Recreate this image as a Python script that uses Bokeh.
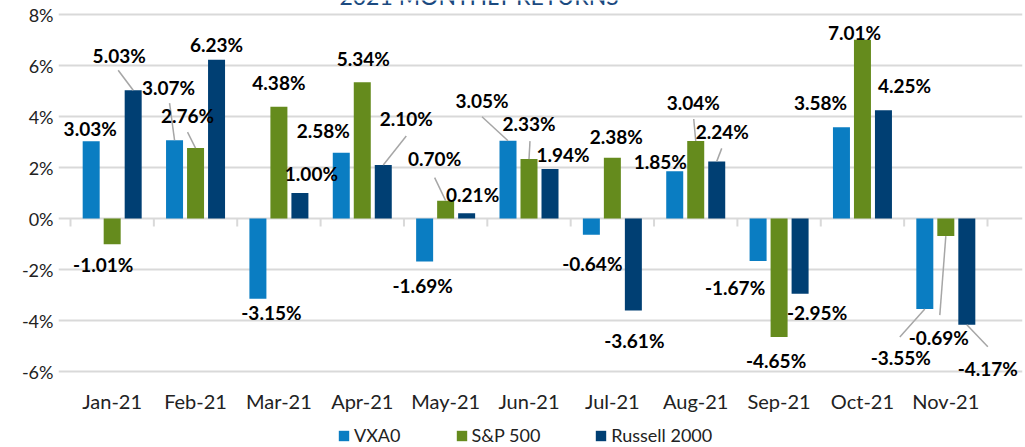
from bokeh.plotting import figure
from bokeh.layouts import column
from bokeh.models import (ColumnDataSource, LabelSet, Label, Legend, LegendItem,
                          FixedTicker, Range1d)
from bokeh.core.properties import value
from bokeh.embed import file_html
from bokeh.resources import INLINE

# ---------------- data ----------------
months = ["Jan-21", "Feb-21", "Mar-21", "Apr-21", "May-21", "Jun-21",
          "Jul-21", "Aug-21", "Sep-21", "Oct-21", "Nov-21"]
vxa0 = [3.03, 3.07, -3.15, 2.58, -1.69, 3.05, -0.64, 1.85, -1.67, 3.58, -3.55]
sp500 = [-1.01, 2.76, 4.38, 5.34, 0.70, 2.33, 2.38, 3.04, -4.65, 7.01, -0.69]
russell = [5.03, 6.23, 1.00, 2.10, 0.21, 1.94, -3.61, 2.24, -2.95, 4.25, -4.17]
series_names = ["VXA0", "S&P 500", "Russell 2000"]
y_ticks = [-6, -4, -2, 0, 2, 4, 6, 8]
title_text = "2021 MONTHLY RETURNS"

# ---------------- layout / style ----------------
colors = ["#0A7DC2", "#658B1D", "#003F73"]
W, H = 1025, 447
FRAME_W, FRAME_H = 964, 380
LEG_H = 31
ppx = 917 / len(months)          # pixels per category
ppy = 357 / 14                   # pixels per percent
BL, BR = 58, 3
X0 = -(70 - BL) / ppx
X1 = X0 + FRAME_W / ppx
Y1 = 8 + 14 / ppy
Y0 = Y1 - FRAME_H / ppy
bar_w = 17 / ppx
dodge = 21 / ppx
FONT = "Lato"

# label offsets (px, screen: +x right, +y down) relative to bar end
lbl_off = [
    [(-1, -13), (-6, -53), (13.5, 14), (-18, -22), (-2, 24), (-26, -40),
     (1, 29), (-14.5, -10), (-23, 26), (-21, -25), (-24, 48)],
    [(-9, 20), (-8, -33), (0, -24), (1, -24), (-11, -42), (0, -36),
     (4, -21), (-2.5, -38), (-3, 23), (-8, -7), (-7, 101)],
    [(-14, -35), (0, -15), (11.5, -19.5), (23, -46), (6, -19), (13, -15),
     (1, 30), (5.5, -30), (17, 19), (21, -25), (21, 44)],
]
# leader lines: (series index, month index, start dx, start dy) relative to bar end
leaders = [(2, 0, -15, -20), (0, 1, -5, -37), (1, 1, -8, -16), (2, 3, 23, -29),
           (1, 4, -11, -23), (0, 5, -26, -24), (1, 5, 1, -18), (1, 7, -2, -22),
           (2, 7, 5, -13), (0, 10, -25, 28), (1, 10, -6, 79), (2, 10, 21, 22)]

p = figure(frame_width=FRAME_W, frame_height=FRAME_H,
           x_range=Range1d(X0, X1), y_range=Range1d(Y0, Y1),
           output_backend="svg", toolbar_location=None,
           min_border_left=BL, min_border_right=BR, min_border_top=0, min_border_bottom=20)
p.outline_line_color = None
p.xgrid.visible = False
p.ygrid.ticker = FixedTicker(ticks=y_ticks)
p.ygrid.grid_line_color = "#D9D9D9"
p.ygrid.grid_line_width = 2
p.ygrid.bounds = (0, len(months))

p.yaxis.ticker = FixedTicker(ticks=y_ticks)
p.yaxis.major_label_overrides = {t: f"{t}%" for t in y_ticks}
p.yaxis.axis_line_color = None
p.yaxis.major_tick_line_color = None
p.yaxis.major_tick_out = 0
p.yaxis.major_tick_in = 0
p.yaxis.minor_tick_line_color = None
p.yaxis.major_label_text_font = FONT
p.yaxis.major_label_text_font_size = "18px"
p.yaxis.major_label_text_color = "#222222"
p.yaxis.major_label_standoff = 5

xt = [i + 0.5 for i in range(len(months))]
p.xaxis.ticker = FixedTicker(ticks=xt)
p.xaxis.major_label_overrides = {x: m for x, m in zip(xt, months)}
p.xaxis.axis_line_color = None
p.xaxis.major_tick_line_color = None
p.xaxis.major_tick_out = 0
p.xaxis.major_tick_in = 0
p.xaxis.minor_tick_line_color = None
p.xaxis.major_label_text_font = FONT
p.xaxis.major_label_text_font_size = "20px"
p.xaxis.major_label_text_color = "#222222"
p.xaxis.major_label_standoff = 8

# category tick marks on the zero line
bounds = list(range(len(months) + 1))
p.segment(x0=bounds, y0=[0] * len(bounds), x1=bounds, y1=[-8 / ppy] * len(bounds),
          line_color="#D9D9D9", line_width=2)

all_series = [vxa0, sp500, russell]
renderers = []
for k, vals in enumerate(all_series):
    xs = [i + 0.5 + (k - 1) * dodge for i in range(len(months))]
    src = ColumnDataSource(dict(x=xs, top=vals))
    r = p.vbar(x="x", top="top", bottom=0, width=bar_w, source=src,
               fill_color=colors[k], line_color=None)
    renderers.append(r)

# leader lines
lx0, ly0, lx1, ly1 = [], [], [], []
for k, i, sx, sy in leaders:
    bx = i + 0.5 + (k - 1) * dodge
    by = all_series[k][i]
    lx0.append(bx + sx / ppx)
    ly0.append(by - sy / ppy)
    lx1.append(bx)
    ly1.append(by)
p.segment(x0=lx0, y0=ly0, x1=lx1, y1=ly1, line_color="#A6A6A6", line_width=1.5)

# data labels
for k, vals in enumerate(all_series):
    xs, ys, txt = [], [], []
    for i, v in enumerate(vals):
        dx, dy = lbl_off[k][i]
        xs.append(i + 0.5 + (k - 1) * dodge + dx / ppx)
        ys.append(v - dy / ppy)
        txt.append(f"{v:.2f}%")
    src = ColumnDataSource(dict(x=xs, y=ys, t=txt))
    p.add_layout(LabelSet(x="x", y="y", text="t", source=src, text_align="center",
                          text_baseline="middle", text_font=value(FONT),
                          text_font_style="bold", text_font_size="19px",
                          text_color="black"))

# title (mostly cut off at top of the picture, as in the original)
p.add_layout(Label(x=(479 - 70) / ppx, y=Y1 + 5 / ppy, text=title_text,
                   text_align="center", text_baseline="alphabetic", text_font=FONT,
                   text_font_size="23px", text_color="#1B4A80"))

# ---------------- legend strip ----------------
q = figure(width=W, height=LEG_H, x_range=Range1d(0, W), y_range=Range1d(0, LEG_H),
           output_backend="svg", toolbar_location=None, min_border=0,
           x_axis_type=None, y_axis_type=None)
q.outline_line_color = None
q.grid.visible = False
leg_rs = []
for k in range(3):
    # zero-height proxies: only their legend swatches are seen
    leg_rs.append(q.vbar(x=[W / 2], top=[0], bottom=[0], width=1,
                         fill_color=colors[k], line_color=None))
legend = Legend(items=[LegendItem(label=n, renderers=[r]) for n, r in zip(series_names, leg_rs)],
                orientation="horizontal", location=(337 - BL, 0))
legend.border_line_color = None
legend.background_fill_alpha = 0
legend.glyph_width = 13
legend.glyph_height = 13
legend.label_height = 20
legend.label_text_font = FONT
legend.label_text_font_size = "18px"
legend.label_text_color = "#222222"
legend.label_standoff = 4
legend.spacing = 54
legend.padding = 0
legend.margin = 0
q.add_layout(legend, "center")

layout = column(p, q, spacing=0)
open("out.html", "w").write(file_html(layout, INLINE))
